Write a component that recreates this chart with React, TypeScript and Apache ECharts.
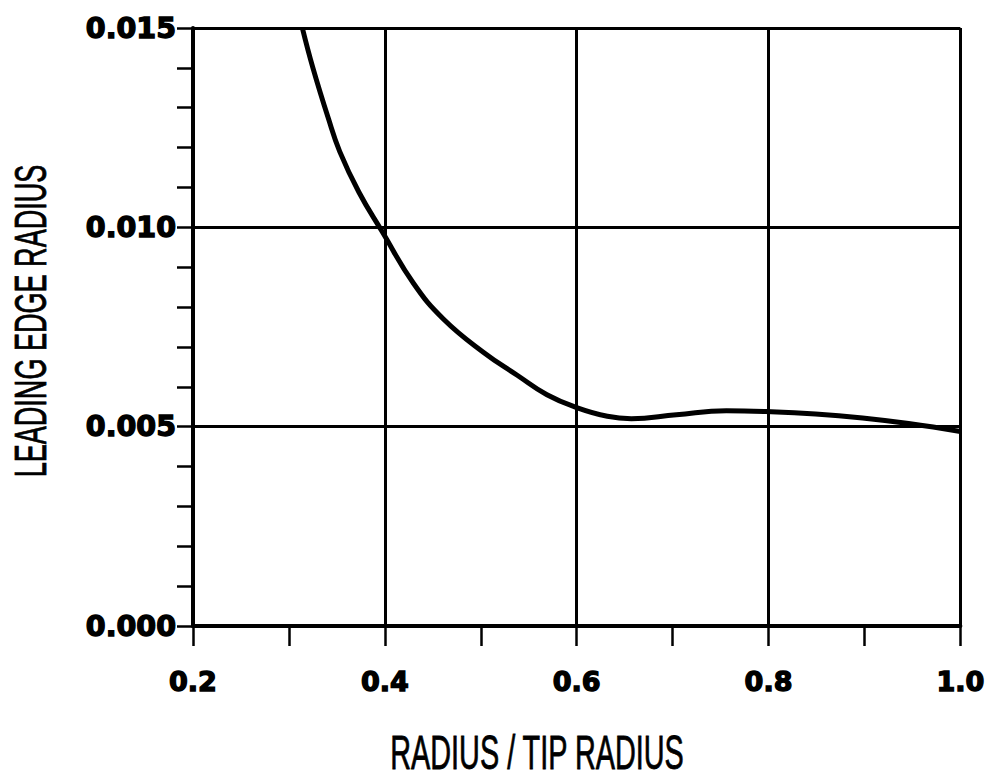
import React, { useEffect, useRef } from "react";
import * as echarts from "echarts";

// Leading edge radius along the blade span (r / r_tip)
const radiusRatio = [
  0.314, 0.325, 0.341, 0.353, 0.373, 0.397, 0.43, 0.461, 0.503, 0.538, 0.569,
  0.6, 0.632, 0.657, 0.704, 0.756, 0.797, 0.849, 0.898, 0.946, 1.0,
];
const leadingEdgeRadius = [
  0.015, 0.014, 0.01274, 0.0119, 0.01088, 0.0099, 0.00859, 0.0077, 0.00686,
  0.00629, 0.0058, 0.00548, 0.00526, 0.0052, 0.0053, 0.0054, 0.00538, 0.00532,
  0.00522, 0.00508, 0.00488,
];

const xTickDigits = 1;
const yTickDigits = 3;
const xTitle = "RADIUS / TIP RADIUS";
const yTitle = "LEADING EDGE RADIUS";

const INK = "#000";
const tickFont = '"DejaVu Sans", sans-serif';
const titleFont = '"Liberation Sans", Arial, sans-serif';

const tickLabel = {
  color: INK,
  fontFamily: tickFont,
  fontWeight: "bold",
  textBorderColor: INK,
  textBorderWidth: 1.4,
};

export default function App() {
  const ref = useRef<HTMLDivElement>(null);

  useEffect(() => {
    if (!ref.current) return;
    const chart = echarts.init(ref.current, undefined, { renderer: "svg" });

    const points = radiusRatio.map((x, i) => [x, leadingEdgeRadius[i]]);

    chart.setOption({
      animation: false,
      backgroundColor: "#fff",
      grid: { left: 193, right: 24, top: 28, bottom: 153 },
      xAxis: {
        type: "value",
        min: 0.2,
        max: 1.0,
        interval: 0.2,
        axisLine: { show: true, lineStyle: { color: INK, width: 4 } },
        axisTick: { show: true, length: 20, lineStyle: { color: INK, width: 2.5 } },
        minorTick: { show: true, splitNumber: 2, length: 20, lineStyle: { color: INK, width: 2.5 } },
        splitLine: { show: true, lineStyle: { color: INK, width: 3 } },
        axisLabel: {
          ...tickLabel,
          fontSize: 27,
          margin: 42,
          formatter: (v: number) => v.toFixed(xTickDigits),
        },
      },
      yAxis: {
        type: "value",
        min: 0,
        max: 0.015,
        interval: 0.005,
        axisLine: { show: true, lineStyle: { color: INK, width: 4 } },
        axisTick: { show: true, length: 16, lineStyle: { color: INK, width: 2.5 } },
        minorTick: { show: true, splitNumber: 5, length: 16, lineStyle: { color: INK, width: 2.5 } },
        splitLine: { show: true, lineStyle: { color: INK, width: 3 } },
        axisLabel: {
          ...tickLabel,
          fontSize: 28.5,
          margin: 17,
          formatter: (v: number) => v.toFixed(yTickDigits),
        },
      },
      series: [
        {
          type: "line",
          data: points,
          smooth: 0.45,
          showSymbol: false,
          symbol: "none",
          lineStyle: { color: INK, width: 5 },
          clip: true,
        },
      ],
      graphic: [
        {
          type: "text",
          x: 537,
          y: 752,
          scaleX: 0.6,
          style: {
            text: xTitle,
            font: `48px ${titleFont}`,
            fill: INK,
            stroke: INK,
            lineWidth: 0.8,
            align: "center",
            verticalAlign: "middle",
          },
        },
        {
          type: "text",
          x: 31,
          y: 321,
          rotation: Math.PI / 2,
          scaleX: 0.615,
          style: {
            text: yTitle,
            font: `44px ${titleFont}`,
            fill: INK,
            stroke: INK,
            lineWidth: 0.8,
            align: "center",
            verticalAlign: "middle",
          },
        },
      ],
    });

    return () => chart.dispose();
  }, []);

  return (
    <div
      ref={ref}
      style={{ position: "fixed", left: 0, top: 0, width: 988, height: 779, background: "#fff" }}
    />
  );
}
